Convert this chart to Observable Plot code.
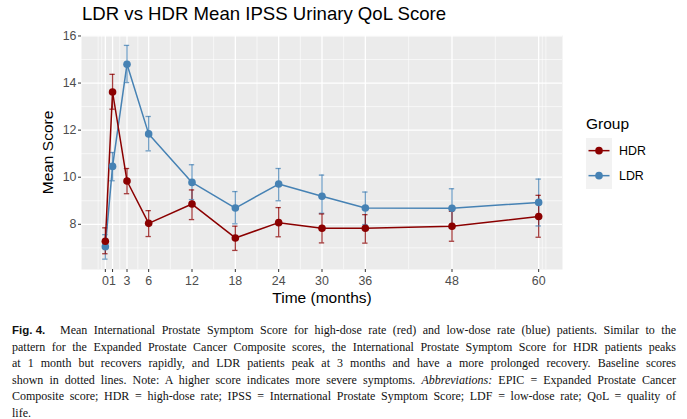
<!DOCTYPE html>
<html><head><meta charset="utf-8">
<script src="https://cdn.jsdelivr.net/npm/d3@7"></script>
<script src="https://cdn.jsdelivr.net/npm/@observablehq/plot@0.6"></script>
<style>
body{margin:0;background:#fff;font-family:"Liberation Sans",Arial,sans-serif;}
#wrap{position:relative;width:687px;height:419px;overflow:hidden;background:#fff;}
#title{position:absolute;left:82px;top:3px;font-size:18.6px;color:#000;white-space:nowrap;}
#chart{position:absolute;left:0;top:30px;}
#legend{position:absolute;left:586px;top:115px;}
#legend .lt{font-size:15.5px;color:#000;margin-bottom:5px;}
#legend .row{display:flex;align-items:center;height:25.3px;}
#legend .key{width:26px;height:25.3px;background:#F2F2F2;}
#legend .lab{font-size:12.4px;margin-left:7px;color:#000;}
#caption{position:absolute;left:12px;top:322px;width:664px;font-family:"Liberation Serif","DejaVu Serif",serif;font-size:12px;line-height:16.6px;color:#111;}
.ln{text-align:justify;text-align-last:justify;}
.ln.last{text-align-last:left;}
.fig{display:inline-block;width:48px;font-family:"Liberation Sans",Arial,sans-serif;font-weight:bold;font-size:11.5px;text-align-last:left;}
</style></head>
<body>
<div id="wrap">
  <div id="title">LDR vs HDR Mean IPSS Urinary QoL Score</div>
  <div id="chart"></div>
  <div id="legend"></div>
  <div id="caption">
    <div class="ln"><span class="fig">Fig. 4.</span>Mean International Prostate Symptom Score for high-dose rate (red) and low-dose rate (blue) patients. Similar to the</div>
    <div class="ln">pattern for the Expanded Prostate Cancer Composite scores, the International Prostate Symptom Score for HDR patients peaks</div>
    <div class="ln">at 1 month but recovers rapidly, and LDR patients peak at 3 months and have a more prolonged recovery. Baseline scores</div>
    <div class="ln">shown in dotted lines. Note: A higher score indicates more severe symptoms. <i>Abbreviations:</i> EPIC = Expanded Prostate Cancer</div>
    <div class="ln">Composite score; HDR = high-dose rate; IPSS = International Prostate Symptom Score; LDF = low-dose rate; QoL = quality of</div>
    <div class="ln last">life.</div>
  </div>
</div>
<script>
const months = [0, 1, 3, 6, 12, 18, 24, 30, 36, 48, 60];
const hdrMean = [7.28, 13.62, 9.84, 8.04, 8.86, 7.42, 8.07, 7.83, 7.83, 7.92, 8.33];
const hdrLow  = [6.75, 12.89, 9.30, 7.48, 8.20, 6.89, 7.47, 7.21, 7.20, 7.28, 7.45];
const hdrHigh = [7.85, 14.37, 10.37, 8.58, 9.46, 7.92, 8.71, 8.44, 8.41, 8.55, 9.23];
const ldrMean = [7.05, 10.46, 14.80, 11.84, 9.78, 8.69, 9.71, 9.19, 8.69, 8.68, 8.93];
const ldrLow  = [6.52, 9.85, 14.02, 11.12, 9.05, 8.02, 9.00, 8.47, 7.99, 7.85, 7.93];
const ldrHigh = [7.56, 11.05, 15.60, 12.58, 10.53, 9.39, 10.37, 10.09, 9.37, 9.51, 9.92];
const groups = ["HDR", "LDR"];
const groupColors = ["#8B0000", "#4682B4"];
const xTicks = [0, 1, 3, 6, 12, 18, 24, 30, 36, 48, 60];
const xMinor = [-1, -0.5, 2, 4.5, 9, 15, 21, 27, 33, 42, 54, 60.5, 61];
const yTicks = [8, 10, 12, 14, 16];
const yMinor = [7, 9, 11, 13, 15];
const xLabel = "Time (months)";
const yLabel = "Mean Score";

const series = {
  HDR: {mean: hdrMean, low: hdrLow, high: hdrHigh},
  LDR: {mean: ldrMean, low: ldrLow, high: ldrHigh}
};
// draw LDR first, HDR on top
const order = ["LDR", "HDR"];
const rows = order.flatMap(g => months.map((t, i) => ({
  group: g, t, mean: series[g].mean[i], low: series[g].low[i], high: series[g].high[i]
})));

const capHalf = 0.37;

const chart = Plot.plot({
  width: 687,
  height: 282,
  marginTop: 5,
  marginBottom: 43,
  marginLeft: 81,
  marginRight: 125,
  x: {domain: [-3.3, 63.3], axis: null},
  y: {domain: [6.08, 16.02], axis: null},
  color: {domain: groups, range: groupColors},
  style: {fontFamily: "'Liberation Sans', Arial, sans-serif", background: "transparent"},
  marks: [
    Plot.frame({fill: "#EBEBEB", stroke: null}),
    Plot.gridX(xMinor, {stroke: "#fff", strokeOpacity: 1, strokeWidth: 0.6}),
    Plot.gridY(yMinor, {stroke: "#fff", strokeOpacity: 1, strokeWidth: 0.6}),
    Plot.gridX(xTicks, {stroke: "#fff", strokeOpacity: 1, strokeWidth: 1.3}),
    Plot.gridY(yTicks, {stroke: "#fff", strokeOpacity: 1, strokeWidth: 1.3}),
    Plot.axisX(xTicks, {tickSize: 3, tickPadding: 4, fontSize: 12.4, stroke: "#333", fill: "#4D4D4D", strokeWidth: 1, label: null, tickFormat: d => String(d)}),
    Plot.axisY(yTicks, {tickSize: 3, tickPadding: 2, fontSize: 12.4, stroke: "#333", fill: "#4D4D4D", strokeWidth: 1, label: null}),
    Plot.text([xLabel], {frameAnchor: "bottom", dy: 29, text: d => d, fontSize: 15.5, fill: "#000", lineAnchor: "middle"}),
    Plot.text([yLabel], {frameAnchor: "left", dx: -33.7, rotate: -90, text: d => d, fontSize: 15.5, fill: "#000", lineAnchor: "middle", textAnchor: "middle"}),
    Plot.ruleX(rows, {x: "t", y1: "low", y2: "high", stroke: "group", strokeWidth: 1.3, strokeOpacity: 0.75}),
    Plot.ruleY(rows, {y: "low", x1: d => d.t - capHalf, x2: d => d.t + capHalf, stroke: "group", strokeWidth: 1.3, strokeOpacity: 0.75}),
    Plot.ruleY(rows, {y: "high", x1: d => d.t - capHalf, x2: d => d.t + capHalf, stroke: "group", strokeWidth: 1.3, strokeOpacity: 0.75}),
    Plot.line(rows, {x: "t", y: "mean", z: "group", stroke: "group", strokeWidth: 1.5}),
    Plot.dot(rows, {x: "t", y: "mean", fill: "group", r: 3.8, stroke: null})
  ]
});
document.getElementById("chart").appendChild(chart);

// legend
const lg = document.getElementById("legend");
const lt = document.createElement("div");
lt.className = "lt"; lt.textContent = "Group";
lg.appendChild(lt);
groups.forEach((g, i) => {
  const row = document.createElement("div");
  row.className = "row";
  row.innerHTML = `<div class="key"><svg width="26" height="25.3"><line x1="2.5" x2="23.5" y1="12.65" y2="12.65" stroke="${groupColors[i]}" stroke-width="1.5"/><circle cx="13" cy="12.65" r="3.8" fill="${groupColors[i]}"/></svg></div><div class="lab">${g}</div>`;
  lg.appendChild(row);
});
</script>
</body></html>
